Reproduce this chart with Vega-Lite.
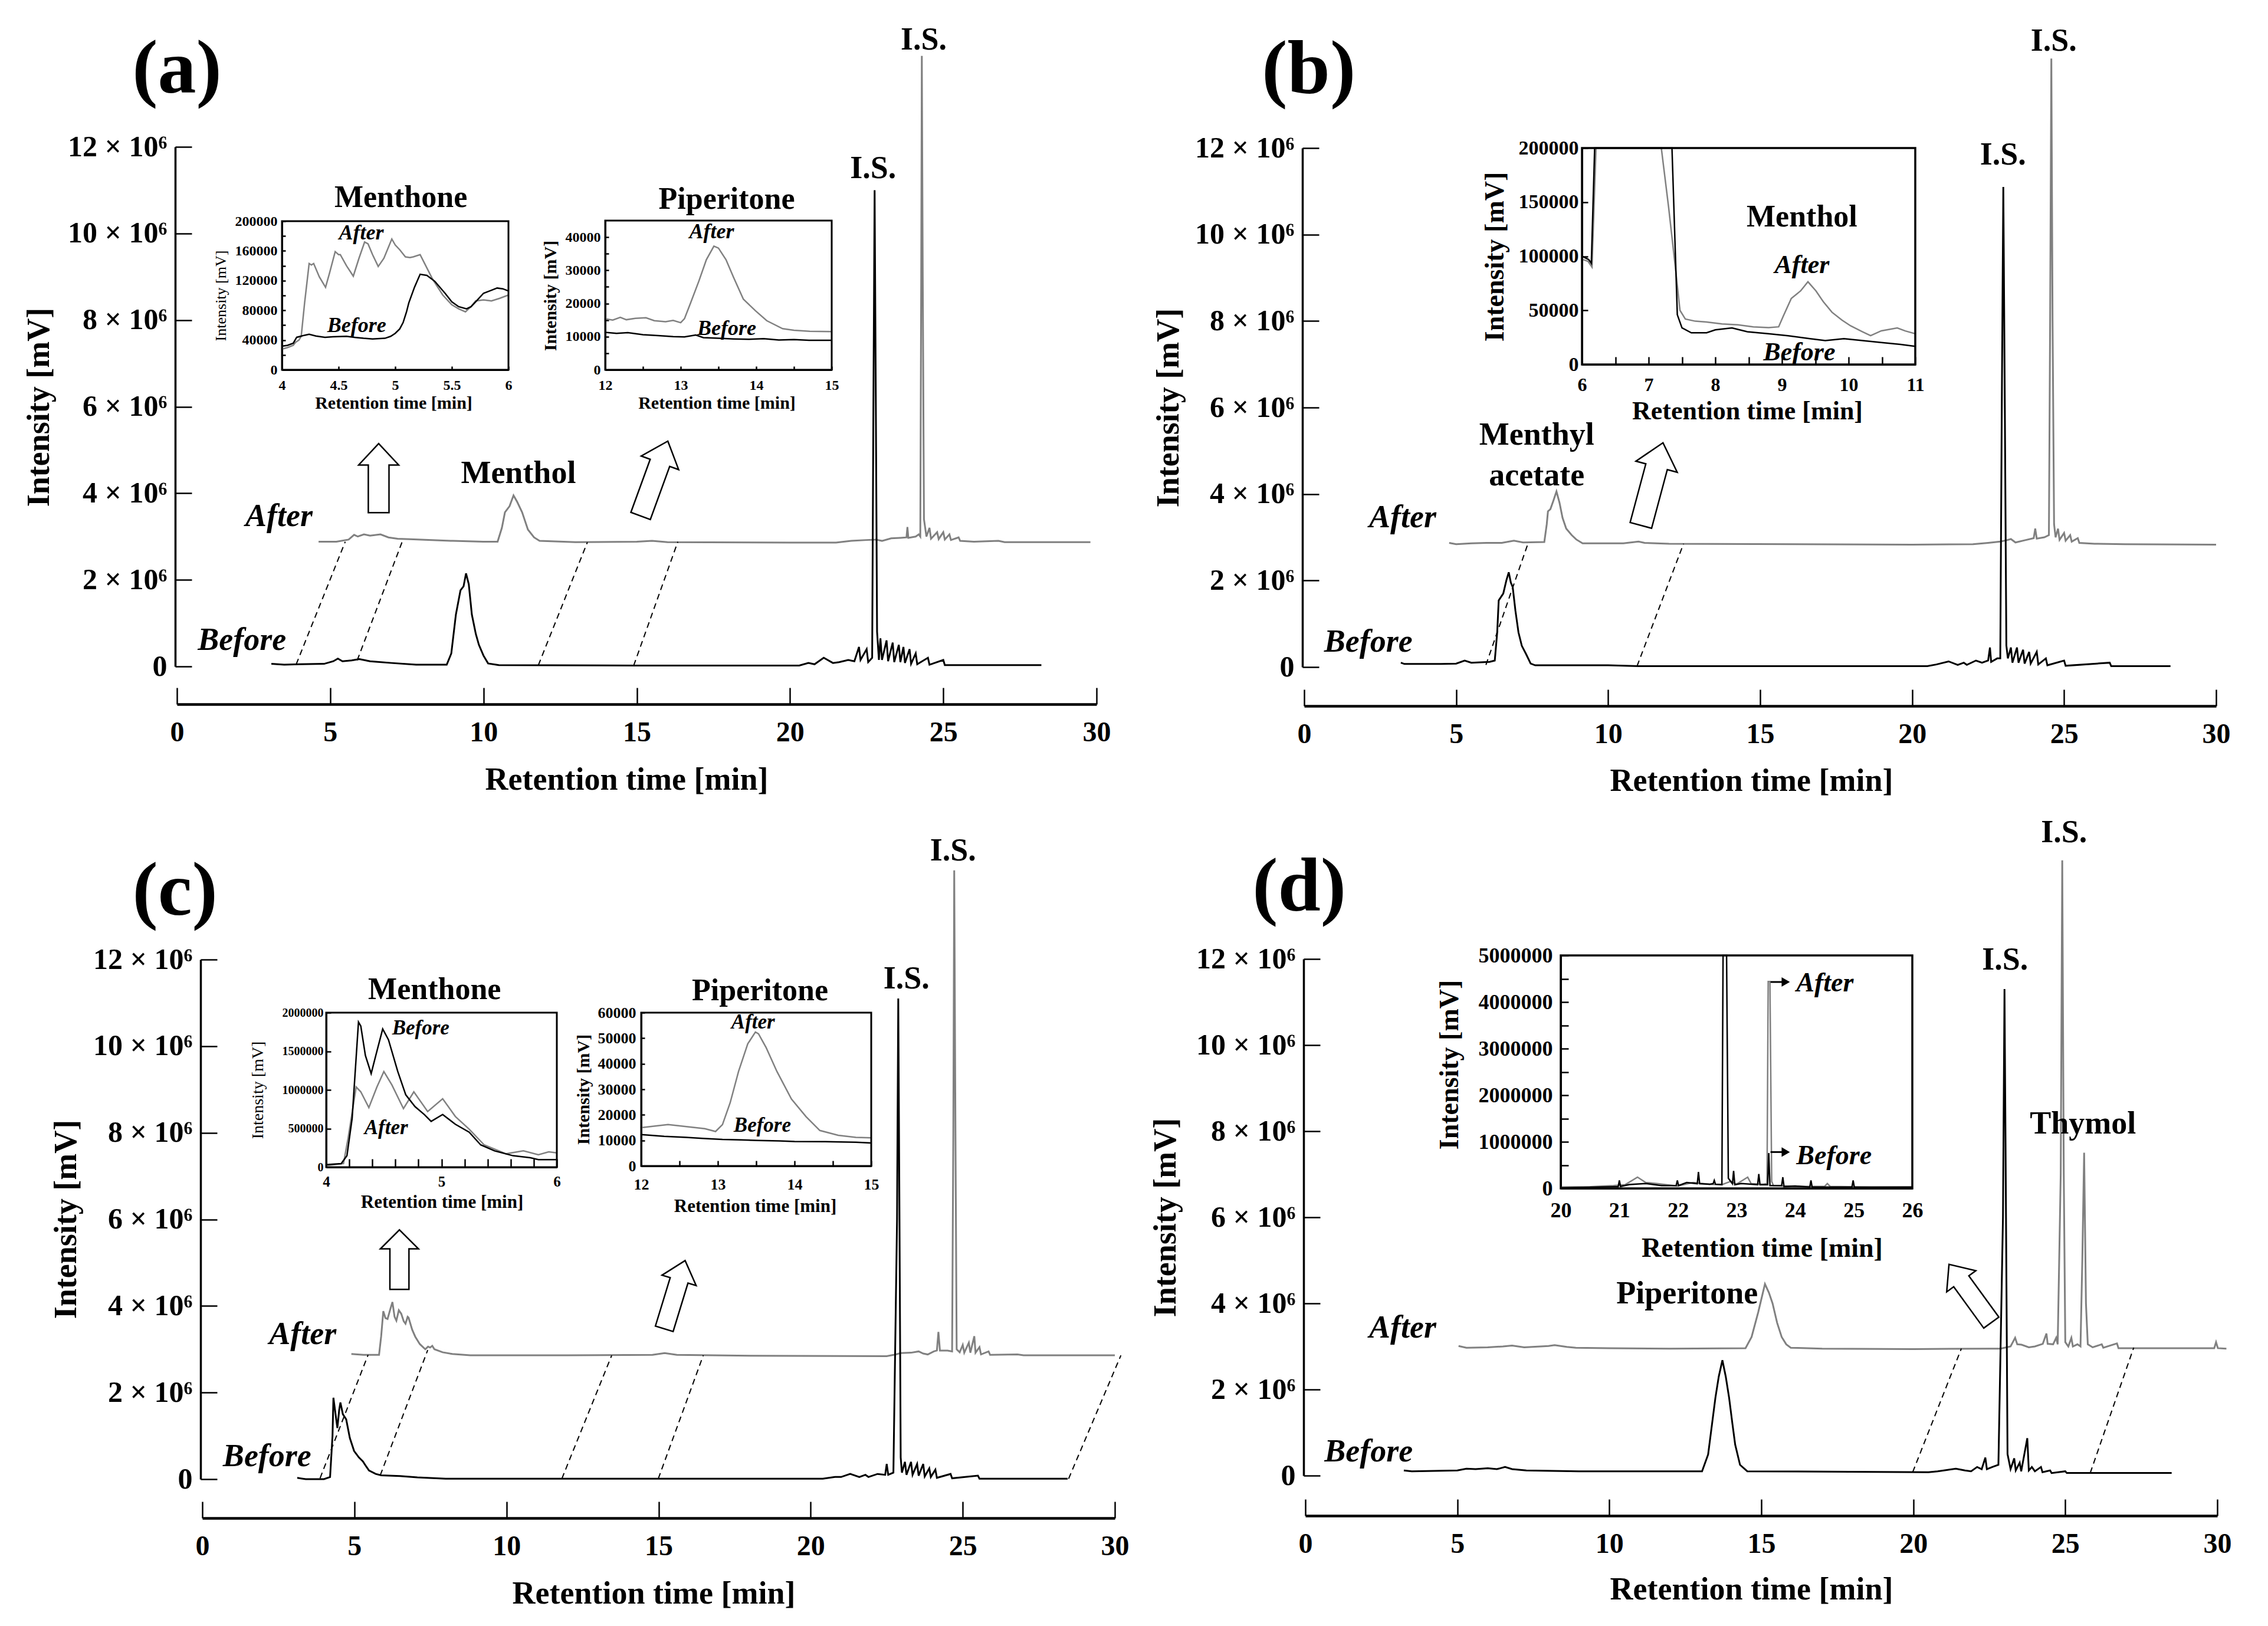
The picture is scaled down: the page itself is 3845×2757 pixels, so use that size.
{
"$schema":"https://vega.github.io/schema/vega-lite/v6.json",
"width":3845,"height":2757,"autosize":"none","padding":0,"background":"white",
"config":{"view":{"stroke":null},"font":"Liberation Serif",
"axis":{"grid":false,"domainColor":"black","tickColor":"black","labelColor":"black","titleColor":"black","labelFont":"Liberation Serif","titleFont":"Liberation Serif","labelFontWeight":"bold","titleFontWeight":"bold","labelOverlap":false,"labelFlush":false,"labelBound":false,"tickWidth":2.5,"domainWidth":3,"titleAlign":"center","titleBaseline":"middle"},
"text":{"font":"Liberation Serif","color":"black"}},
"datasets":{
"aM":[
{"s":"A","t":4.62,"v":2.88},{"s":"A","t":5.2,"v":2.88},{"s":"A","t":5.6,"v":2.93},{"s":"A","t":5.78,"v":3.04},{"s":"A","t":5.9,"v":3.0},{"s":"A","t":6.1,"v":3.05},{"s":"A","t":6.3,"v":3.02},{"s":"A","t":6.64,"v":3.05},{"s":"A","t":6.9,"v":2.98},{"s":"A","t":7.2,"v":2.95},{"s":"A","t":7.6,"v":2.94},{"s":"A","t":8.2,"v":2.92},{"s":"A","t":9.0,"v":2.9},{"s":"A","t":10.0,"v":2.88},{"s":"A","t":10.46,"v":2.88},{"s":"A","t":10.6,"v":3.2},{"s":"A","t":10.7,"v":3.56},{"s":"A","t":10.85,"v":3.7},{"s":"A","t":10.98,"v":3.95},{"s":"A","t":11.1,"v":3.8},{"s":"A","t":11.26,"v":3.56},{"s":"A","t":11.45,"v":3.16},{"s":"A","t":11.65,"v":2.98},{"s":"A","t":11.83,"v":2.9},{"s":"A","t":13.0,"v":2.87},{"s":"A","t":15.0,"v":2.88},{"s":"A","t":15.5,"v":2.9},{"s":"A","t":16.0,"v":2.87},{"s":"A","t":20.0,"v":2.86},{"s":"A","t":21.5,"v":2.86},{"s":"A","t":22.0,"v":2.9},{"s":"A","t":22.5,"v":2.92},{"s":"A","t":22.8,"v":2.93},{"s":"A","t":23.0,"v":2.9},{"s":"A","t":23.3,"v":2.96},{"s":"A","t":23.6,"v":2.97},{"s":"A","t":23.8,"v":2.98},{"s":"A","t":23.83,"v":3.22},{"s":"A","t":23.86,"v":2.97},{"s":"A","t":24.1,"v":3.0},{"s":"A","t":24.2,"v":3.05},{"s":"A","t":24.25,"v":3.0},{"s":"A","t":24.28,"v":9.0},{"s":"A","t":24.3,"v":14.1},{"s":"A","t":24.33,"v":9.0},{"s":"A","t":24.37,"v":3.4},{"s":"A","t":24.45,"v":3.0},{"s":"A","t":24.55,"v":3.2},{"s":"A","t":24.6,"v":2.95},{"s":"A","t":24.8,"v":3.1},{"s":"A","t":24.85,"v":2.94},{"s":"A","t":25.0,"v":3.1},{"s":"A","t":25.05,"v":2.93},{"s":"A","t":25.2,"v":3.05},{"s":"A","t":25.25,"v":2.92},{"s":"A","t":25.5,"v":2.98},{"s":"A","t":25.55,"v":2.9},{"s":"A","t":26.0,"v":2.88},{"s":"A","t":26.8,"v":2.9},{"s":"A","t":27.0,"v":2.87},{"s":"A","t":29.8,"v":2.87},
{"s":"B","t":3.08,"v":0.06},{"s":"B","t":3.5,"v":0.04},{"s":"B","t":4.0,"v":0.05},{"s":"B","t":4.8,"v":0.06},{"s":"B","t":5.1,"v":0.12},{"s":"B","t":5.25,"v":0.18},{"s":"B","t":5.4,"v":0.12},{"s":"B","t":5.7,"v":0.14},{"s":"B","t":5.95,"v":0.17},{"s":"B","t":6.3,"v":0.12},{"s":"B","t":7.0,"v":0.08},{"s":"B","t":7.8,"v":0.04},{"s":"B","t":8.8,"v":0.04},{"s":"B","t":8.95,"v":0.3},{"s":"B","t":9.1,"v":1.2},{"s":"B","t":9.25,"v":1.76},{"s":"B","t":9.35,"v":1.85},{"s":"B","t":9.43,"v":2.15},{"s":"B","t":9.52,"v":1.9},{"s":"B","t":9.62,"v":1.2},{"s":"B","t":9.75,"v":0.75},{"s":"B","t":9.85,"v":0.5},{"s":"B","t":10.0,"v":0.25},{"s":"B","t":10.15,"v":0.07},{"s":"B","t":10.5,"v":0.03},{"s":"B","t":15.0,"v":0.02},{"s":"B","t":20.3,"v":0.02},{"s":"B","t":20.6,"v":0.08},{"s":"B","t":20.8,"v":0.05},{"s":"B","t":21.1,"v":0.2},{"s":"B","t":21.4,"v":0.08},{"s":"B","t":21.6,"v":0.1},{"s":"B","t":21.9,"v":0.15},{"s":"B","t":22.1,"v":0.12},{"s":"B","t":22.25,"v":0.45},{"s":"B","t":22.3,"v":0.15},{"s":"B","t":22.5,"v":0.4},{"s":"B","t":22.55,"v":0.1},{"s":"B","t":22.68,"v":0.2},{"s":"B","t":22.72,"v":6.0},{"s":"B","t":22.76,"v":11.0},{"s":"B","t":22.8,"v":6.0},{"s":"B","t":22.84,"v":0.8},{"s":"B","t":22.9,"v":0.15},{"s":"B","t":22.95,"v":0.65},{"s":"B","t":23.0,"v":0.15},{"s":"B","t":23.15,"v":0.6},{"s":"B","t":23.2,"v":0.12},{"s":"B","t":23.35,"v":0.55},{"s":"B","t":23.4,"v":0.1},{"s":"B","t":23.55,"v":0.5},{"s":"B","t":23.6,"v":0.1},{"s":"B","t":23.7,"v":0.45},{"s":"B","t":23.75,"v":0.08},{"s":"B","t":23.9,"v":0.4},{"s":"B","t":23.95,"v":0.06},{"s":"B","t":24.1,"v":0.3},{"s":"B","t":24.15,"v":0.05},{"s":"B","t":24.5,"v":0.2},{"s":"B","t":24.55,"v":0.04},{"s":"B","t":25.0,"v":0.15},{"s":"B","t":25.05,"v":0.03},{"s":"B","t":26.5,"v":0.03},{"s":"B","t":28.2,"v":0.03}],
"aD":[{"g":1,"t":3.89,"v":0.05},{"g":1,"t":5.49,"v":2.88},{"g":2,"t":5.88,"v":0.14},{"g":2,"t":7.38,"v":2.94},{"g":3,"t":11.79,"v":0.03},{"g":3,"t":13.39,"v":2.87},{"g":4,"t":14.9,"v":0.02},{"g":4,"t":16.34,"v":2.88}],
"a1":[
{"s":"A","t":4.0,"v":27800},{"s":"A","t":4.05,"v":30000},{"s":"A","t":4.1,"v":33000},{"s":"A","t":4.12,"v":37000},{"s":"A","t":4.15,"v":40000},{"s":"A","t":4.17,"v":45000},{"s":"A","t":4.2,"v":90000},{"s":"A","t":4.24,"v":143000},{"s":"A","t":4.26,"v":141000},{"s":"A","t":4.28,"v":143000},{"s":"A","t":4.33,"v":125000},{"s":"A","t":4.385,"v":111000},{"s":"A","t":4.42,"v":130000},{"s":"A","t":4.47,"v":159000},{"s":"A","t":4.5,"v":155000},{"s":"A","t":4.515,"v":155000},{"s":"A","t":4.57,"v":140000},{"s":"A","t":4.63,"v":126000},{"s":"A","t":4.68,"v":150000},{"s":"A","t":4.73,"v":172000},{"s":"A","t":4.76,"v":169500},{"s":"A","t":4.8,"v":155000},{"s":"A","t":4.85,"v":139000},{"s":"A","t":4.9,"v":150000},{"s":"A","t":4.97,"v":176000},{"s":"A","t":5.0,"v":168000},{"s":"A","t":5.04,"v":161500},{"s":"A","t":5.09,"v":152000},{"s":"A","t":5.13,"v":151000},{"s":"A","t":5.16,"v":152000},{"s":"A","t":5.22,"v":155000},{"s":"A","t":5.26,"v":143000},{"s":"A","t":5.33,"v":122000},{"s":"A","t":5.42,"v":100600},{"s":"A","t":5.5,"v":87400},{"s":"A","t":5.56,"v":82000},{"s":"A","t":5.62,"v":78000},{"s":"A","t":5.67,"v":85000},{"s":"A","t":5.71,"v":92700},{"s":"A","t":5.78,"v":94000},{"s":"A","t":5.85,"v":92700},{"s":"A","t":5.92,"v":96000},{"s":"A","t":6.0,"v":100600},
{"s":"B","t":4.0,"v":31800},{"s":"B","t":4.05,"v":33000},{"s":"B","t":4.1,"v":35800},{"s":"B","t":4.13,"v":43700},{"s":"B","t":4.2,"v":46500},{"s":"B","t":4.24,"v":47700},{"s":"B","t":4.3,"v":45500},{"s":"B","t":4.38,"v":43700},{"s":"B","t":4.45,"v":44500},{"s":"B","t":4.57,"v":45000},{"s":"B","t":4.65,"v":43500},{"s":"B","t":4.72,"v":42400},{"s":"B","t":4.8,"v":41500},{"s":"B","t":4.91,"v":42400},{"s":"B","t":4.96,"v":45000},{"s":"B","t":5.0,"v":49000},{"s":"B","t":5.04,"v":55000},{"s":"B","t":5.07,"v":63600},{"s":"B","t":5.1,"v":78000},{"s":"B","t":5.12,"v":90000},{"s":"B","t":5.17,"v":111000},{"s":"B","t":5.22,"v":128500},{"s":"B","t":5.28,"v":127000},{"s":"B","t":5.35,"v":119000},{"s":"B","t":5.44,"v":103000},{"s":"B","t":5.5,"v":91400},{"s":"B","t":5.56,"v":85000},{"s":"B","t":5.63,"v":82000},{"s":"B","t":5.67,"v":85000},{"s":"B","t":5.71,"v":91400},{"s":"B","t":5.78,"v":103000},{"s":"B","t":5.85,"v":107000},{"s":"B","t":5.9,"v":110000},{"s":"B","t":5.95,"v":109000},{"s":"B","t":6.0,"v":106000}],
"a2":[
{"s":"A","t":12.0,"v":15400},{"s":"A","t":12.1,"v":15000},{"s":"A","t":12.2,"v":15800},{"s":"A","t":12.28,"v":15100},{"s":"A","t":12.4,"v":15500},{"s":"A","t":12.54,"v":15700},{"s":"A","t":12.65,"v":14800},{"s":"A","t":12.8,"v":14500},{"s":"A","t":12.9,"v":14900},{"s":"A","t":13.0,"v":14200},{"s":"A","t":13.05,"v":15400},{"s":"A","t":13.13,"v":20100},{"s":"A","t":13.24,"v":26700},{"s":"A","t":13.34,"v":33200},{"s":"A","t":13.44,"v":37300},{"s":"A","t":13.5,"v":36700},{"s":"A","t":13.6,"v":33200},{"s":"A","t":13.7,"v":27900},{"s":"A","t":13.83,"v":21300},{"s":"A","t":13.99,"v":17800},{"s":"A","t":14.14,"v":14800},{"s":"A","t":14.35,"v":12400},{"s":"A","t":14.5,"v":11900},{"s":"A","t":14.71,"v":11600},{"s":"A","t":15.0,"v":11500},
{"s":"B","t":12.0,"v":11300},{"s":"B","t":12.15,"v":11000},{"s":"B","t":12.3,"v":11200},{"s":"B","t":12.5,"v":10600},{"s":"B","t":12.7,"v":10300},{"s":"B","t":12.9,"v":10000},{"s":"B","t":13.05,"v":9900},{"s":"B","t":13.2,"v":10500},{"s":"B","t":13.3,"v":9700},{"s":"B","t":13.5,"v":9500},{"s":"B","t":13.7,"v":9300},{"s":"B","t":13.9,"v":9200},{"s":"B","t":14.1,"v":9400},{"s":"B","t":14.3,"v":9000},{"s":"B","t":14.5,"v":9100},{"s":"B","t":14.7,"v":8900},{"s":"B","t":15.0,"v":8900}],
"bM":[
{"s":"A","t":4.77,"v":2.87},{"s":"A","t":5.0,"v":2.84},{"s":"A","t":5.5,"v":2.86},{"s":"A","t":6.0,"v":2.87},{"s":"A","t":6.5,"v":2.87},{"s":"A","t":6.9,"v":2.92},{"s":"A","t":7.2,"v":2.88},{"s":"A","t":7.9,"v":2.89},{"s":"A","t":7.98,"v":3.3},{"s":"A","t":8.02,"v":3.6},{"s":"A","t":8.1,"v":3.65},{"s":"A","t":8.2,"v":3.85},{"s":"A","t":8.3,"v":4.06},{"s":"A","t":8.4,"v":3.8},{"s":"A","t":8.5,"v":3.45},{"s":"A","t":8.62,"v":3.2},{"s":"A","t":8.8,"v":3.05},{"s":"A","t":8.95,"v":2.95},{"s":"A","t":9.16,"v":2.86},{"s":"A","t":10.5,"v":2.86},{"s":"A","t":11.0,"v":2.9},{"s":"A","t":11.2,"v":2.87},{"s":"A","t":12.0,"v":2.85},{"s":"A","t":20.0,"v":2.83},{"s":"A","t":22.0,"v":2.84},{"s":"A","t":22.5,"v":2.87},{"s":"A","t":22.9,"v":2.9},{"s":"A","t":23.1,"v":2.93},{"s":"A","t":23.25,"v":2.96},{"s":"A","t":23.4,"v":2.88},{"s":"A","t":23.7,"v":2.93},{"s":"A","t":24.0,"v":2.98},{"s":"A","t":24.05,"v":3.2},{"s":"A","t":24.1,"v":2.97},{"s":"A","t":24.35,"v":3.0},{"s":"A","t":24.5,"v":3.05},{"s":"A","t":24.54,"v":8.0},{"s":"A","t":24.58,"v":14.07},{"s":"A","t":24.62,"v":8.0},{"s":"A","t":24.67,"v":3.3},{"s":"A","t":24.72,"v":3.0},{"s":"A","t":24.8,"v":3.2},{"s":"A","t":24.85,"v":2.94},{"s":"A","t":25.0,"v":3.1},{"s":"A","t":25.05,"v":2.92},{"s":"A","t":25.2,"v":3.05},{"s":"A","t":25.25,"v":2.9},{"s":"A","t":25.45,"v":2.98},{"s":"A","t":25.5,"v":2.87},{"s":"A","t":26.0,"v":2.85},{"s":"A","t":27.0,"v":2.84},{"s":"A","t":30.0,"v":2.83},
{"s":"B","t":3.18,"v":0.1},{"s":"B","t":3.3,"v":0.07},{"s":"B","t":4.5,"v":0.07},{"s":"B","t":5.0,"v":0.08},{"s":"B","t":5.28,"v":0.15},{"s":"B","t":5.5,"v":0.1},{"s":"B","t":6.1,"v":0.12},{"s":"B","t":6.27,"v":0.15},{"s":"B","t":6.35,"v":0.8},{"s":"B","t":6.4,"v":1.54},{"s":"B","t":6.55,"v":1.7},{"s":"B","t":6.65,"v":2.0},{"s":"B","t":6.73,"v":2.19},{"s":"B","t":6.8,"v":1.95},{"s":"B","t":6.86,"v":1.85},{"s":"B","t":6.95,"v":1.3},{"s":"B","t":7.05,"v":0.8},{"s":"B","t":7.16,"v":0.49},{"s":"B","t":7.3,"v":0.3},{"s":"B","t":7.45,"v":0.08},{"s":"B","t":7.6,"v":0.04},{"s":"B","t":10.0,"v":0.04},{"s":"B","t":11.0,"v":0.02},{"s":"B","t":20.5,"v":0.02},{"s":"B","t":20.8,"v":0.06},{"s":"B","t":21.2,"v":0.13},{"s":"B","t":21.5,"v":0.05},{"s":"B","t":21.7,"v":0.1},{"s":"B","t":21.8,"v":0.05},{"s":"B","t":22.1,"v":0.15},{"s":"B","t":22.3,"v":0.1},{"s":"B","t":22.5,"v":0.15},{"s":"B","t":22.56,"v":0.45},{"s":"B","t":22.6,"v":0.12},{"s":"B","t":22.8,"v":0.2},{"s":"B","t":22.9,"v":0.2},{"s":"B","t":22.95,"v":6.0},{"s":"B","t":23.0,"v":11.1},{"s":"B","t":23.05,"v":6.0},{"s":"B","t":23.1,"v":0.5},{"s":"B","t":23.15,"v":0.2},{"s":"B","t":23.25,"v":0.45},{"s":"B","t":23.3,"v":0.1},{"s":"B","t":23.45,"v":0.45},{"s":"B","t":23.5,"v":0.1},{"s":"B","t":23.65,"v":0.4},{"s":"B","t":23.7,"v":0.08},{"s":"B","t":23.85,"v":0.35},{"s":"B","t":23.9,"v":0.08},{"s":"B","t":24.1,"v":0.35},{"s":"B","t":24.15,"v":0.06},{"s":"B","t":24.4,"v":0.2},{"s":"B","t":24.45,"v":0.04},{"s":"B","t":25.0,"v":0.15},{"s":"B","t":25.05,"v":0.03},{"s":"B","t":26.5,"v":0.1},{"s":"B","t":26.55,"v":0.02},{"s":"B","t":28.5,"v":0.02}],
"bD":[{"g":1,"t":5.98,"v":0.05},{"g":1,"t":7.37,"v":2.87},{"g":2,"t":10.95,"v":0.02},{"g":2,"t":12.48,"v":2.85}],
"b1":[
{"s":"A","t":6.0,"v":97200},{"s":"A","t":6.09,"v":95400},{"s":"A","t":6.15,"v":90000},{"s":"A","t":6.21,"v":200000},{"s":"A","t":7.19,"v":200000},{"s":"A","t":7.3,"v":145000},{"s":"A","t":7.4,"v":90000},{"s":"A","t":7.47,"v":50000},{"s":"A","t":7.55,"v":42000},{"s":"A","t":7.7,"v":40000},{"s":"A","t":7.87,"v":39300},{"s":"A","t":8.1,"v":37500},{"s":"A","t":8.34,"v":36600},{"s":"A","t":8.57,"v":34800},{"s":"A","t":8.8,"v":34000},{"s":"A","t":8.95,"v":34800},{"s":"A","t":9.02,"v":44700},{"s":"A","t":9.14,"v":61000},{"s":"A","t":9.28,"v":68000},{"s":"A","t":9.39,"v":76400},{"s":"A","t":9.51,"v":68000},{"s":"A","t":9.62,"v":58000},{"s":"A","t":9.75,"v":48300},{"s":"A","t":9.9,"v":41000},{"s":"A","t":10.03,"v":35700},{"s":"A","t":10.2,"v":30500},{"s":"A","t":10.33,"v":26600},{"s":"A","t":10.49,"v":31100},{"s":"A","t":10.73,"v":33800},{"s":"A","t":10.85,"v":31000},{"s":"A","t":11.0,"v":28400},
{"s":"B","t":6.0,"v":100000},{"s":"B","t":6.1,"v":97000},{"s":"B","t":6.14,"v":93500},{"s":"B","t":6.19,"v":200000},{"s":"B","t":7.35,"v":200000},{"s":"B","t":7.43,"v":46000},{"s":"B","t":7.5,"v":33800},{"s":"B","t":7.64,"v":29300},{"s":"B","t":7.87,"v":29300},{"s":"B","t":8.0,"v":32000},{"s":"B","t":8.25,"v":33800},{"s":"B","t":8.48,"v":30200},{"s":"B","t":8.81,"v":28400},{"s":"B","t":9.09,"v":26600},{"s":"B","t":9.42,"v":23900},{"s":"B","t":9.65,"v":22100},{"s":"B","t":9.93,"v":23900},{"s":"B","t":10.21,"v":22100},{"s":"B","t":10.49,"v":20300},{"s":"B","t":10.78,"v":18500},{"s":"B","t":11.0,"v":16700}],
"cM":[
{"s":"A","t":4.9,"v":2.89},{"s":"A","t":5.3,"v":2.87},{"s":"A","t":5.81,"v":2.87},{"s":"A","t":5.88,"v":3.3},{"s":"A","t":5.95,"v":3.88},{"s":"A","t":6.02,"v":3.72},{"s":"A","t":6.09,"v":3.7},{"s":"A","t":6.17,"v":3.9},{"s":"A","t":6.25,"v":4.09},{"s":"A","t":6.32,"v":3.75},{"s":"A","t":6.38,"v":3.66},{"s":"A","t":6.46,"v":3.9},{"s":"A","t":6.54,"v":3.82},{"s":"A","t":6.62,"v":3.65},{"s":"A","t":6.68,"v":3.59},{"s":"A","t":6.75,"v":3.75},{"s":"A","t":6.78,"v":3.73},{"s":"A","t":6.9,"v":3.45},{"s":"A","t":7.0,"v":3.29},{"s":"A","t":7.15,"v":3.12},{"s":"A","t":7.33,"v":3.0},{"s":"A","t":7.42,"v":3.06},{"s":"A","t":7.49,"v":3.04},{"s":"A","t":7.56,"v":3.08},{"s":"A","t":7.63,"v":3.0},{"s":"A","t":7.9,"v":2.93},{"s":"A","t":8.22,"v":2.89},{"s":"A","t":8.81,"v":2.86},{"s":"A","t":12.0,"v":2.86},{"s":"A","t":14.8,"v":2.87},{"s":"A","t":15.2,"v":2.91},{"s":"A","t":15.6,"v":2.87},{"s":"A","t":18.0,"v":2.85},{"s":"A","t":22.5,"v":2.84},{"s":"A","t":22.8,"v":2.88},{"s":"A","t":22.95,"v":2.91},{"s":"A","t":23.3,"v":2.92},{"s":"A","t":23.55,"v":2.95},{"s":"A","t":23.7,"v":2.9},{"s":"A","t":23.85,"v":2.88},{"s":"A","t":24.05,"v":2.95},{"s":"A","t":24.15,"v":2.97},{"s":"A","t":24.2,"v":3.4},{"s":"A","t":24.25,"v":2.97},{"s":"A","t":24.5,"v":2.97},{"s":"A","t":24.65,"v":2.95},{"s":"A","t":24.69,"v":8.0},{"s":"A","t":24.72,"v":14.06},{"s":"A","t":24.76,"v":8.0},{"s":"A","t":24.8,"v":3.0},{"s":"A","t":24.9,"v":2.93},{"s":"A","t":25.0,"v":3.1},{"s":"A","t":25.05,"v":2.92},{"s":"A","t":25.2,"v":3.15},{"s":"A","t":25.25,"v":2.92},{"s":"A","t":25.38,"v":3.3},{"s":"A","t":25.42,"v":2.92},{"s":"A","t":25.55,"v":3.05},{"s":"A","t":25.6,"v":2.88},{"s":"A","t":25.85,"v":2.95},{"s":"A","t":25.9,"v":2.87},{"s":"A","t":26.8,"v":2.88},{"s":"A","t":27.0,"v":2.86},{"s":"A","t":30.0,"v":2.86},
{"s":"B","t":3.12,"v":0.03},{"s":"B","t":3.4,"v":0.0},{"s":"B","t":4.0,"v":0.0},{"s":"B","t":4.2,"v":0.05},{"s":"B","t":4.28,"v":1.0},{"s":"B","t":4.31,"v":1.88},{"s":"B","t":4.38,"v":1.5},{"s":"B","t":4.44,"v":1.18},{"s":"B","t":4.5,"v":1.6},{"s":"B","t":4.54,"v":1.77},{"s":"B","t":4.62,"v":1.5},{"s":"B","t":4.73,"v":1.38},{"s":"B","t":4.85,"v":0.95},{"s":"B","t":4.99,"v":0.65},{"s":"B","t":5.15,"v":0.5},{"s":"B","t":5.28,"v":0.41},{"s":"B","t":5.38,"v":0.3},{"s":"B","t":5.48,"v":0.2},{"s":"B","t":5.7,"v":0.12},{"s":"B","t":5.88,"v":0.09},{"s":"B","t":6.5,"v":0.07},{"s":"B","t":7.07,"v":0.04},{"s":"B","t":8.0,"v":0.01},{"s":"B","t":20.4,"v":0.01},{"s":"B","t":20.8,"v":0.05},{"s":"B","t":21.0,"v":0.05},{"s":"B","t":21.3,"v":0.12},{"s":"B","t":21.6,"v":0.05},{"s":"B","t":21.8,"v":0.1},{"s":"B","t":21.9,"v":0.05},{"s":"B","t":22.2,"v":0.12},{"s":"B","t":22.45,"v":0.1},{"s":"B","t":22.5,"v":0.35},{"s":"B","t":22.55,"v":0.1},{"s":"B","t":22.72,"v":0.15},{"s":"B","t":22.84,"v":6.0},{"s":"B","t":22.88,"v":11.1},{"s":"B","t":22.92,"v":6.0},{"s":"B","t":22.96,"v":0.5},{"s":"B","t":23.0,"v":0.15},{"s":"B","t":23.1,"v":0.4},{"s":"B","t":23.15,"v":0.1},{"s":"B","t":23.3,"v":0.4},{"s":"B","t":23.35,"v":0.1},{"s":"B","t":23.5,"v":0.35},{"s":"B","t":23.55,"v":0.08},{"s":"B","t":23.7,"v":0.35},{"s":"B","t":23.75,"v":0.06},{"s":"B","t":23.9,"v":0.25},{"s":"B","t":23.95,"v":0.05},{"s":"B","t":24.1,"v":0.22},{"s":"B","t":24.15,"v":0.03},{"s":"B","t":24.6,"v":0.12},{"s":"B","t":24.65,"v":0.02},{"s":"B","t":25.5,"v":0.08},{"s":"B","t":25.55,"v":0.01},{"s":"B","t":28.45,"v":0.01}],
"cD":[{"g":1,"t":3.87,"v":0.02},{"g":1,"t":5.45,"v":2.87},{"g":2,"t":5.85,"v":0.09},{"g":2,"t":7.41,"v":2.98},{"g":3,"t":11.82,"v":0.01},{"g":3,"t":13.46,"v":2.86},{"g":4,"t":14.99,"v":0.01},{"g":4,"t":16.47,"v":2.86},{"g":5,"t":28.48,"v":0.01},{"g":5,"t":30.2,"v":2.86}],
"c1":[
{"s":"A","t":4.0,"v":20000},{"s":"A","t":4.15,"v":46000},{"s":"A","t":4.19,"v":377000},{"s":"A","t":4.26,"v":1038000},{"s":"A","t":4.3,"v":975000},{"s":"A","t":4.37,"v":771000},{"s":"A","t":4.44,"v":1038000},{"s":"A","t":4.5,"v":1237000},{"s":"A","t":4.57,"v":1064000},{"s":"A","t":4.67,"v":758000},{"s":"A","t":4.76,"v":975000},{"s":"A","t":4.88,"v":720000},{"s":"A","t":5.01,"v":885000},{"s":"A","t":5.12,"v":656000},{"s":"A","t":5.24,"v":491000},{"s":"A","t":5.37,"v":288000},{"s":"A","t":5.56,"v":173000},{"s":"A","t":5.71,"v":211000},{"s":"A","t":5.84,"v":160000},{"s":"A","t":5.93,"v":198000},{"s":"A","t":6.0,"v":186000},
{"s":"B","t":4.0,"v":33000},{"s":"B","t":4.13,"v":46000},{"s":"B","t":4.18,"v":148000},{"s":"B","t":4.225,"v":631000},{"s":"B","t":4.28,"v":1878000},{"s":"B","t":4.3,"v":1827000},{"s":"B","t":4.34,"v":1445000},{"s":"B","t":4.39,"v":1211000},{"s":"B","t":4.43,"v":1445000},{"s":"B","t":4.49,"v":1789000},{"s":"B","t":4.54,"v":1649000},{"s":"B","t":4.62,"v":1242000},{"s":"B","t":4.69,"v":936000},{"s":"B","t":4.77,"v":784000},{"s":"B","t":4.85,"v":682000},{"s":"B","t":4.91,"v":593000},{"s":"B","t":5.01,"v":682000},{"s":"B","t":5.12,"v":555000},{"s":"B","t":5.24,"v":453000},{"s":"B","t":5.34,"v":288000},{"s":"B","t":5.46,"v":211000},{"s":"B","t":5.62,"v":148000},{"s":"B","t":5.77,"v":122000},{"s":"B","t":5.84,"v":97000},{"s":"B","t":6.0,"v":97000}],
"c2":[
{"s":"A","t":12.0,"v":15000},{"s":"A","t":12.35,"v":16200},{"s":"A","t":12.59,"v":15400},{"s":"A","t":12.83,"v":14600},{"s":"A","t":12.97,"v":13500},{"s":"A","t":13.06,"v":16200},{"s":"A","t":13.16,"v":24700},{"s":"A","t":13.27,"v":37000},{"s":"A","t":13.39,"v":47800},{"s":"A","t":13.49,"v":52400},{"s":"A","t":13.53,"v":51700},{"s":"A","t":13.63,"v":46300},{"s":"A","t":13.77,"v":37000},{"s":"A","t":13.96,"v":26200},{"s":"A","t":14.15,"v":19300},{"s":"A","t":14.33,"v":13900},{"s":"A","t":14.57,"v":12000},{"s":"A","t":14.8,"v":11200},{"s":"A","t":15.0,"v":11000},
{"s":"B","t":12.0,"v":12300},{"s":"B","t":12.3,"v":11600},{"s":"B","t":12.59,"v":11200},{"s":"B","t":12.8,"v":10800},{"s":"B","t":13.06,"v":10400},{"s":"B","t":13.3,"v":10200},{"s":"B","t":13.53,"v":10000},{"s":"B","t":13.8,"v":9800},{"s":"B","t":14.0,"v":9600},{"s":"B","t":14.4,"v":9500},{"s":"B","t":14.8,"v":9300},{"s":"B","t":15.0,"v":9000}],
"dM":[
{"s":"A","t":5.04,"v":3.01},{"s":"A","t":5.3,"v":2.97},{"s":"A","t":6.0,"v":2.98},{"s":"A","t":6.5,"v":3.0},{"s":"A","t":6.8,"v":3.02},{"s":"A","t":7.2,"v":2.98},{"s":"A","t":8.0,"v":3.01},{"s":"A","t":8.2,"v":3.03},{"s":"A","t":8.6,"v":2.99},{"s":"A","t":8.9,"v":2.97},{"s":"A","t":10.0,"v":2.96},{"s":"A","t":12.0,"v":2.95},{"s":"A","t":14.48,"v":2.96},{"s":"A","t":14.68,"v":3.22},{"s":"A","t":14.9,"v":3.8},{"s":"A","t":15.12,"v":4.45},{"s":"A","t":15.25,"v":4.25},{"s":"A","t":15.37,"v":4.0},{"s":"A","t":15.52,"v":3.55},{"s":"A","t":15.67,"v":3.22},{"s":"A","t":15.82,"v":3.05},{"s":"A","t":15.97,"v":2.97},{"s":"A","t":17.0,"v":2.95},{"s":"A","t":20.0,"v":2.94},{"s":"A","t":22.5,"v":2.95},{"s":"A","t":22.87,"v":2.95},{"s":"A","t":23.2,"v":3.0},{"s":"A","t":23.35,"v":3.2},{"s":"A","t":23.42,"v":3.05},{"s":"A","t":23.56,"v":3.04},{"s":"A","t":23.8,"v":2.98},{"s":"A","t":24.0,"v":3.0},{"s":"A","t":24.26,"v":3.06},{"s":"A","t":24.38,"v":3.3},{"s":"A","t":24.42,"v":3.06},{"s":"A","t":24.6,"v":3.05},{"s":"A","t":24.7,"v":3.2},{"s":"A","t":24.75,"v":3.05},{"s":"A","t":24.85,"v":7.0},{"s":"A","t":24.9,"v":14.29},{"s":"A","t":24.95,"v":7.0},{"s":"A","t":25.0,"v":3.1},{"s":"A","t":25.1,"v":3.0},{"s":"A","t":25.2,"v":3.2},{"s":"A","t":25.25,"v":3.0},{"s":"A","t":25.4,"v":3.05},{"s":"A","t":25.5,"v":3.0},{"s":"A","t":25.56,"v":5.0},{"s":"A","t":25.62,"v":7.5},{"s":"A","t":25.68,"v":4.0},{"s":"A","t":25.74,"v":3.05},{"s":"A","t":25.9,"v":2.98},{"s":"A","t":26.2,"v":3.05},{"s":"A","t":26.25,"v":2.97},{"s":"A","t":26.7,"v":3.07},{"s":"A","t":26.75,"v":2.96},{"s":"A","t":28.0,"v":2.96},{"s":"A","t":29.9,"v":2.96},{"s":"A","t":29.96,"v":3.1},{"s":"A","t":30.02,"v":2.96},{"s":"A","t":30.3,"v":2.95},
{"s":"B","t":3.24,"v":0.12},{"s":"B","t":3.5,"v":0.1},{"s":"B","t":5.0,"v":0.12},{"s":"B","t":5.3,"v":0.16},{"s":"B","t":5.6,"v":0.15},{"s":"B","t":6.0,"v":0.17},{"s":"B","t":6.3,"v":0.15},{"s":"B","t":6.57,"v":0.2},{"s":"B","t":6.8,"v":0.15},{"s":"B","t":7.27,"v":0.12},{"s":"B","t":9.0,"v":0.1},{"s":"B","t":12.25,"v":0.1},{"s":"B","t":13.05,"v":0.1},{"s":"B","t":13.25,"v":0.49},{"s":"B","t":13.49,"v":1.81},{"s":"B","t":13.6,"v":2.3},{"s":"B","t":13.72,"v":2.68},{"s":"B","t":13.83,"v":2.3},{"s":"B","t":13.94,"v":1.81},{"s":"B","t":14.05,"v":1.2},{"s":"B","t":14.14,"v":0.72},{"s":"B","t":14.3,"v":0.25},{"s":"B","t":14.54,"v":0.1},{"s":"B","t":20.5,"v":0.08},{"s":"B","t":20.8,"v":0.1},{"s":"B","t":21.4,"v":0.16},{"s":"B","t":21.7,"v":0.12},{"s":"B","t":21.9,"v":0.1},{"s":"B","t":22.1,"v":0.2},{"s":"B","t":22.25,"v":0.15},{"s":"B","t":22.37,"v":0.42},{"s":"B","t":22.42,"v":0.15},{"s":"B","t":22.6,"v":0.2},{"s":"B","t":22.8,"v":0.25},{"s":"B","t":22.95,"v":6.0},{"s":"B","t":23.0,"v":11.3},{"s":"B","t":23.05,"v":6.0},{"s":"B","t":23.1,"v":0.5},{"s":"B","t":23.2,"v":0.15},{"s":"B","t":23.32,"v":0.4},{"s":"B","t":23.37,"v":0.12},{"s":"B","t":23.5,"v":0.3},{"s":"B","t":23.55,"v":0.1},{"s":"B","t":23.75,"v":0.87},{"s":"B","t":23.8,"v":0.12},{"s":"B","t":23.9,"v":0.2},{"s":"B","t":24.0,"v":0.1},{"s":"B","t":24.2,"v":0.2},{"s":"B","t":24.25,"v":0.08},{"s":"B","t":24.5,"v":0.12},{"s":"B","t":24.55,"v":0.06},{"s":"B","t":25.0,"v":0.1},{"s":"B","t":25.05,"v":0.06},{"s":"B","t":28.5,"v":0.06}],
"dD":[{"g":1,"t":19.98,"v":0.08},{"g":1,"t":21.58,"v":2.95},{"g":2,"t":25.82,"v":0.06},{"g":2,"t":27.25,"v":2.97}],
"d1":[
{"s":"A","t":20.0,"v":27000},{"s":"A","t":20.5,"v":35000},{"s":"A","t":20.9,"v":59000},{"s":"A","t":21.1,"v":80000},{"s":"A","t":21.31,"v":240000},{"s":"A","t":21.45,"v":127000},{"s":"A","t":21.66,"v":100000},{"s":"A","t":21.99,"v":50000},{"s":"A","t":22.26,"v":127000},{"s":"A","t":22.54,"v":90000},{"s":"A","t":22.75,"v":80000},{"s":"A","t":22.9,"v":150000},{"s":"A","t":23.0,"v":90000},{"s":"A","t":23.19,"v":240000},{"s":"A","t":23.25,"v":100000},{"s":"A","t":23.45,"v":90000},{"s":"A","t":23.52,"v":100000},{"s":"A","t":23.54,"v":4440000},{"s":"A","t":23.57,"v":4440000},{"s":"A","t":23.6,"v":150000},{"s":"A","t":23.63,"v":60000},{"s":"A","t":24.0,"v":40000},{"s":"A","t":24.5,"v":40000},{"s":"A","t":24.55,"v":104000},{"s":"A","t":24.6,"v":40000},{"s":"A","t":25.3,"v":30000},{"s":"A","t":26.0,"v":27000},
{"s":"B","t":20.0,"v":13000},{"s":"B","t":20.5,"v":25000},{"s":"B","t":20.9,"v":36000},{"s":"B","t":20.98,"v":36000},{"s":"B","t":21.0,"v":170000},{"s":"B","t":21.02,"v":40000},{"s":"B","t":21.17,"v":81000},{"s":"B","t":21.45,"v":104000},{"s":"B","t":21.72,"v":59000},{"s":"B","t":21.97,"v":60000},{"s":"B","t":21.99,"v":170000},{"s":"B","t":22.01,"v":60000},{"s":"B","t":22.15,"v":127000},{"s":"B","t":22.33,"v":100000},{"s":"B","t":22.35,"v":353000},{"s":"B","t":22.37,"v":100000},{"s":"B","t":22.54,"v":90000},{"s":"B","t":22.6,"v":100000},{"s":"B","t":22.62,"v":172000},{"s":"B","t":22.64,"v":90000},{"s":"B","t":22.75,"v":81000},{"s":"B","t":22.77,"v":5000000},{"s":"B","t":22.83,"v":5000000},{"s":"B","t":22.86,"v":217000},{"s":"B","t":22.93,"v":100000},{"s":"B","t":22.95,"v":375000},{"s":"B","t":22.97,"v":80000},{"s":"B","t":23.08,"v":104000},{"s":"B","t":23.36,"v":80000},{"s":"B","t":23.38,"v":307000},{"s":"B","t":23.4,"v":80000},{"s":"B","t":23.53,"v":80000},{"s":"B","t":23.55,"v":760000},{"s":"B","t":23.57,"v":60000},{"s":"B","t":23.77,"v":60000},{"s":"B","t":23.79,"v":240000},{"s":"B","t":23.81,"v":40000},{"s":"B","t":24.0,"v":50000},{"s":"B","t":24.25,"v":30000},{"s":"B","t":24.27,"v":172000},{"s":"B","t":24.29,"v":30000},{"s":"B","t":24.97,"v":30000},{"s":"B","t":24.99,"v":172000},{"s":"B","t":25.01,"v":25000},{"s":"B","t":26.0,"v":27000}],
"d1arr":[{"g":1,"t":23.58,"v":4430000},{"g":1,"t":23.8,"v":4430000},{"g":2,"t":23.58,"v":780000},{"g":2,"t":23.8,"v":780000}]
},
"layer":[
{"data":{"name":"aM"},
 "encoding":{
  "x":{"field":"t","type":"quantitative","scale":{"domain":[0,30],"range":[300,1859],"nice":false,"zero":false},"axis":{"orient":"bottom","offset":-1563,"values":[0,5,10,15,20,25,30],"format":"d","tickSize":-28,"domainWidth":4.5,"labelFontSize":48,"labelPadding":52,"title":"Retention time [min]","titleFontSize":54,"titleX":1062,"titleY":128}},
  "y":{"field":"v","type":"quantitative","scale":{"domain":[0,12],"range":[1130,249],"nice":false,"zero":false},"axis":{"orient":"left","offset":-297,"values":[0,2,4,6,8,10,12],"labelExpr":"datum.value === 0 ? '0\u2005' : datum.value + ' × 10⁶'","tickSize":-28,"domainWidth":3.5,"labelFontSize":50,"labelPadding":42,"title":"Intensity [mV]","titleFontSize":54,"titleX":-231,"titleY":690,"titleAngle":270}}},
 "layer":[
  {"transform":[{"filter":"datum.s==='A'"}],"mark":{"type":"line","color":"#808080","strokeWidth":3}},
  {"transform":[{"filter":"datum.s==='B'"}],"mark":{"type":"line","color":"#000000","strokeWidth":3}},
  {"data":{"name":"aD"},"mark":{"type":"line","color":"#000000","strokeWidth":2,"strokeDash":[10,7]},"encoding":{"detail":{"field":"g"}}},
  {"data":{"values":[{"t":6.58,"v":4.35}]},"mark":{"type":"point","shape":"M-0.3,1L-0.3,-0.38L-0.58,-0.38L0,-1L0.58,-0.38L0.3,-0.38L0.3,1Z","size":13689,"angle":0,"filled":true,"fill":"white","stroke":"black","strokeWidth":2.5,"opacity":1}},
  {"data":{"values":[{"t":15.57,"v":4.34}]},"mark":{"type":"point","shape":"M-0.26,1L-0.26,-0.42L-0.5,-0.42L0,-1L0.5,-0.42L0.26,-0.42L0.26,1Z","size":18225,"angle":20,"filled":true,"fill":"white","stroke":"black","strokeWidth":2.5,"opacity":1}},
  {"data":{"values":[{"t":3.33,"v":3.46,"label":"After"},{"t":2.12,"v":0.6,"label":"Before"}]},"mark":{"type":"text","fontSize":54,"fontStyle":"italic","fontWeight":"bold"},"encoding":{"text":{"field":"label"}}},
  {"data":{"values":[{"t":11.14,"v":4.45,"label":"Menthol"},{"t":22.71,"v":11.5,"label":"I.S."},{"t":24.36,"v":14.47,"label":"I.S."}]},"mark":{"type":"text","fontSize":54,"fontWeight":"bold"},"encoding":{"text":{"field":"label"}}},
  {"data":{"values":[{"t":0,"v":13.79,"label":"(a)"}]},"mark":{"type":"text","fontSize":130,"fontWeight":"bold"},"encoding":{"text":{"field":"label"}}}
 ]},
{"data":{"name":"a1"},
 "encoding":{
  "x":{"field":"t","type":"quantitative","scale":{"domain":[4,6],"range":[478,862],"nice":false,"zero":false},"axis":{"orient":"bottom","offset":-2130,"values":[4,4.5,5,5.5,6],"format":"~g","tickSize":-6,"labelFontSize":24,"labelPadding":20,"title":"Retention time [min]","titleFontSize":30,"titleX":667,"titleY":56}},
  "y":{"field":"v","type":"quantitative","scale":{"domain":[0,200000],"range":[627,375],"nice":false,"zero":false},"axis":{"orient":"left","offset":-478,"values":[0,20000,40000,60000,80000,100000,120000,140000,160000,180000,200000],"labelExpr":"datum.value % 40000 === 0 ? format(datum.value, 'd') : ''","tickSize":-6,"labelFontSize":24,"labelPadding":14,"title":"Intensity [mV]","titleFontSize":26,"titleFontWeight":"normal","titleX":-104,"titleY":501,"titleAngle":270}}},
 "layer":[
  {"transform":[{"filter":"datum.s==='A'"}],"mark":{"type":"line","color":"#808080","strokeWidth":2.5}},
  {"transform":[{"filter":"datum.s==='B'"}],"mark":{"type":"line","color":"#000000","strokeWidth":2.5}},
  {"data":{"values":[{"t":4,"t2":6,"v":0,"v2":200000}]},"mark":{"type":"rect","fillOpacity":0,"stroke":"black","strokeWidth":3},"encoding":{"x2":{"field":"t2"},"y2":{"field":"v2"}}},
  {"data":{"values":[{"t":5.05,"v":231700,"label":"Menthone"}]},"mark":{"type":"text","fontSize":52,"fontWeight":"bold"},"encoding":{"text":{"field":"label"}}},
  {"data":{"values":[{"t":4.7,"v":184000,"label":"After"},{"t":4.66,"v":59500,"label":"Before"}]},"mark":{"type":"text","fontSize":36,"fontStyle":"italic","fontWeight":"bold"},"encoding":{"text":{"field":"label"}}}
 ]},
{"data":{"name":"a2"},
 "encoding":{
  "x":{"field":"t","type":"quantitative","scale":{"domain":[12,15],"range":[1026,1410],"nice":false,"zero":false},"axis":{"orient":"bottom","offset":-2130,"values":[12,12.5,13,13.5,14,14.5,15],"labelExpr":"datum.value % 1 === 0 ? format(datum.value, 'd') : ''","tickSize":-6,"labelFontSize":24,"labelPadding":20,"title":"Retention time [min]","titleFontSize":30,"titleX":1215,"titleY":56}},
  "y":{"field":"v","type":"quantitative","scale":{"domain":[0,45000],"range":[627,374],"nice":false,"zero":false},"axis":{"orient":"left","offset":-1026,"values":[0,5000,10000,15000,20000,25000,30000,35000,40000],"labelExpr":"datum.value % 10000 === 0 ? format(datum.value, 'd') : ''","tickSize":-6,"labelFontSize":24,"labelPadding":14,"title":"Intensity [mV]","titleFontSize":30,"titleX":-93,"titleY":501,"titleAngle":270}}},
 "layer":[
  {"transform":[{"filter":"datum.s==='A'"}],"mark":{"type":"line","color":"#808080","strokeWidth":2.5}},
  {"transform":[{"filter":"datum.s==='B'"}],"mark":{"type":"line","color":"#000000","strokeWidth":2.5}},
  {"data":{"values":[{"t":12,"t2":15,"v":0,"v2":45000}]},"mark":{"type":"rect","fillOpacity":0,"stroke":"black","strokeWidth":3},"encoding":{"x2":{"field":"t2"},"y2":{"field":"v2"}}},
  {"data":{"values":[{"t":13.61,"v":51400,"label":"Piperitone"}]},"mark":{"type":"text","fontSize":52,"fontWeight":"bold"},"encoding":{"text":{"field":"label"}}},
  {"data":{"values":[{"t":13.41,"v":41600,"label":"After"},{"t":13.61,"v":12450,"label":"Before"}]},"mark":{"type":"text","fontSize":36,"fontStyle":"italic","fontWeight":"bold"},"encoding":{"text":{"field":"label"}}}
 ]},
{"data":{"name":"bM"},
 "encoding":{
  "x":{"field":"t","type":"quantitative","scale":{"domain":[0,30],"range":[2211,3757],"nice":false,"zero":false},"axis":{"orient":"bottom","offset":-1560,"values":[0,5,10,15,20,25,30],"format":"d","tickSize":-28,"domainWidth":4.5,"labelFontSize":48,"labelPadding":52,"title":"Retention time [min]","titleFontSize":54,"titleX":2969,"titleY":127}},
  "y":{"field":"v","type":"quantitative","scale":{"domain":[0,12],"range":[1131,251],"nice":false,"zero":false},"axis":{"orient":"left","offset":-2208,"values":[0,2,4,6,8,10,12],"labelExpr":"datum.value === 0 ? '0\u2005' : datum.value + ' × 10⁶'","tickSize":-28,"domainWidth":3.5,"labelFontSize":50,"labelPadding":42,"title":"Intensity [mV]","titleFontSize":54,"titleX":-227,"titleY":691,"titleAngle":270}}},
 "layer":[
  {"transform":[{"filter":"datum.s==='A'"}],"mark":{"type":"line","color":"#808080","strokeWidth":3}},
  {"transform":[{"filter":"datum.s==='B'"}],"mark":{"type":"line","color":"#000000","strokeWidth":3}},
  {"data":{"name":"bD"},"mark":{"type":"line","color":"#000000","strokeWidth":2,"strokeDash":[10,7]},"encoding":{"detail":{"field":"g"}}},
  {"data":{"values":[{"t":11.44,"v":4.23}]},"mark":{"type":"point","shape":"M-0.26,1L-0.26,-0.42L-0.5,-0.42L0,-1L0.5,-0.42L0.26,-0.42L0.26,1Z","size":21025,"angle":15,"filled":true,"fill":"white","stroke":"black","strokeWidth":2.5,"opacity":1}},
  {"data":{"values":[{"t":3.24,"v":3.45,"label":"After"},{"t":2.11,"v":0.57,"label":"Before"}]},"mark":{"type":"text","fontSize":54,"fontStyle":"italic","fontWeight":"bold"},"encoding":{"text":{"field":"label"}}},
  {"data":{"values":[{"t":7.65,"v":5.36,"label":"Menthyl"},{"t":7.65,"v":4.42,"label":"acetate"},{"t":22.99,"v":11.84,"label":"I.S."},{"t":24.66,"v":14.47,"label":"I.S."}]},"mark":{"type":"text","fontSize":54,"fontWeight":"bold"},"encoding":{"text":{"field":"label"}}},
  {"data":{"values":[{"t":0.15,"v":13.8,"label":"(b)"}]},"mark":{"type":"text","fontSize":130,"fontWeight":"bold"},"encoding":{"text":{"field":"label"}}}
 ]},
{"data":{"name":"b1"},
 "encoding":{
  "x":{"field":"t","type":"quantitative","scale":{"domain":[6,11],"range":[2682,3247],"nice":false,"zero":false},"axis":{"orient":"bottom","offset":-2139,"values":[6,6.5,7,7.5,8,8.5,9,9.5,10,10.5,11],"labelExpr":"datum.value % 1 === 0 ? format(datum.value, 'd') : ''","tickSize":-13,"labelFontSize":32,"labelPadding":32,"title":"Retention time [min]","titleFontSize":44,"titleX":2962,"titleY":79}},
  "y":{"field":"v","type":"quantitative","scale":{"domain":[0,200000],"range":[618,251],"nice":false,"zero":false},"axis":{"orient":"left","offset":-2682,"values":[0,50000,100000,150000,200000],"format":"d","tickSize":-10,"labelFontSize":34,"labelPadding":16,"title":"Intensity [mV]","titleFontSize":46,"titleX":-148,"titleY":435,"titleAngle":270}}},
 "layer":[
  {"transform":[{"filter":"datum.s==='A'"}],"mark":{"type":"line","color":"#808080","strokeWidth":2.5}},
  {"transform":[{"filter":"datum.s==='B'"}],"mark":{"type":"line","color":"#000000","strokeWidth":2.5}},
  {"data":{"values":[{"t":6,"t2":11,"v":0,"v2":200000}]},"mark":{"type":"rect","fillOpacity":0,"stroke":"black","strokeWidth":3.5},"encoding":{"x2":{"field":"t2"},"y2":{"field":"v2"}}},
  {"data":{"values":[{"t":9.3,"v":136200,"label":"Menthol"}]},"mark":{"type":"text","fontSize":52,"fontWeight":"bold"},"encoding":{"text":{"field":"label"}}},
  {"data":{"values":[{"t":9.3,"v":91600,"label":"After"},{"t":9.26,"v":10900,"label":"Before"}]},"mark":{"type":"text","fontSize":44,"fontStyle":"italic","fontWeight":"bold"},"encoding":{"text":{"field":"label"}}}
 ]},
{"data":{"name":"cM"},
 "encoding":{
  "x":{"field":"t","type":"quantitative","scale":{"domain":[0,30],"range":[343,1890],"nice":false,"zero":false},"axis":{"orient":"bottom","offset":-183,"values":[0,5,10,15,20,25,30],"format":"d","tickSize":-28,"domainWidth":4.5,"labelFontSize":48,"labelPadding":52,"title":"Retention time [min]","titleFontSize":54,"titleX":1108,"titleY":128}},
  "y":{"field":"v","type":"quantitative","scale":{"domain":[0,12],"range":[2508,1627],"nice":false,"zero":false},"axis":{"orient":"left","offset":-340,"values":[0,2,4,6,8,10,12],"labelExpr":"datum.value === 0 ? '0\u2005' : datum.value + ' × 10⁶'","tickSize":-28,"domainWidth":3.5,"labelFontSize":50,"labelPadding":42,"title":"Intensity [mV]","titleFontSize":54,"titleX":-228,"titleY":2067,"titleAngle":270}}},
 "layer":[
  {"transform":[{"filter":"datum.s==='A'"}],"mark":{"type":"line","color":"#808080","strokeWidth":3}},
  {"transform":[{"filter":"datum.s==='B'"}],"mark":{"type":"line","color":"#000000","strokeWidth":3}},
  {"data":{"name":"cD"},"mark":{"type":"line","color":"#000000","strokeWidth":2,"strokeDash":[10,7]},"encoding":{"detail":{"field":"g"}}},
  {"data":{"values":[{"t":6.48,"v":5.07}]},"mark":{"type":"point","shape":"M-0.32,1L-0.32,-0.36L-0.64,-0.36L0,-1L0.64,-0.36L0.32,-0.36L0.32,1Z","size":10201,"angle":0,"filled":true,"fill":"white","stroke":"black","strokeWidth":2.5,"opacity":1}},
  {"data":{"values":[{"t":15.53,"v":4.26}]},"mark":{"type":"point","shape":"M-0.26,1L-0.26,-0.42L-0.5,-0.42L0,-1L0.5,-0.42L0.26,-0.42L0.26,1Z","size":14641,"angle":17,"filled":true,"fill":"white","stroke":"black","strokeWidth":2.5,"opacity":1}},
  {"data":{"values":[{"t":3.3,"v":3.34,"label":"After"},{"t":2.13,"v":0.52,"label":"Before"}]},"mark":{"type":"text","fontSize":54,"fontStyle":"italic","fontWeight":"bold"},"encoding":{"text":{"field":"label"}}},
  {"data":{"values":[{"t":23.15,"v":11.55,"label":"I.S."},{"t":24.68,"v":14.5,"label":"I.S."}]},"mark":{"type":"text","fontSize":54,"fontWeight":"bold"},"encoding":{"text":{"field":"label"}}},
  {"data":{"values":[{"t":-0.9,"v":13.57,"label":"(c)"}]},"mark":{"type":"text","fontSize":130,"fontWeight":"bold"},"encoding":{"text":{"field":"label"}}}
 ]},
{"data":{"name":"c1"},
 "encoding":{
  "x":{"field":"t","type":"quantitative","scale":{"domain":[4,6],"range":[553,944],"nice":false,"zero":false},"axis":{"orient":"bottom","offset":-778,"values":[4,4.2,4.4,4.6,4.8,5,5.2,5.4,5.6,5.8,6],"labelExpr":"datum.value % 1 === 0 ? format(datum.value, 'd') : ''","tickSize":-14,"labelFontSize":25,"labelPadding":26,"title":"Retention time [min]","titleFontSize":31,"titleX":749,"titleY":59}},
  "y":{"field":"v","type":"quantitative","scale":{"domain":[0,2000000],"range":[1979,1717],"nice":false,"zero":false},"axis":{"orient":"left","offset":-553,"values":[0,500000,1000000,1500000,2000000],"format":"d","tickSize":-8,"labelFontSize":20,"labelPadding":13,"title":"Intensity [mV]","titleFontSize":28,"titleFontWeight":"normal","titleX":-116,"titleY":1848,"titleAngle":270}}},
 "layer":[
  {"transform":[{"filter":"datum.s==='A'"}],"mark":{"type":"line","color":"#808080","strokeWidth":2.5}},
  {"transform":[{"filter":"datum.s==='B'"}],"mark":{"type":"line","color":"#000000","strokeWidth":2.5}},
  {"data":{"values":[{"t":4,"t2":6,"v":0,"v2":2000000}]},"mark":{"type":"rect","fillOpacity":0,"stroke":"black","strokeWidth":3},"encoding":{"x2":{"field":"t2"},"y2":{"field":"v2"}}},
  {"data":{"values":[{"t":4.94,"v":2300000,"label":"Menthone"}]},"mark":{"type":"text","fontSize":52,"fontWeight":"bold"},"encoding":{"text":{"field":"label"}}},
  {"data":{"values":[{"t":4.82,"v":1800000,"label":"Before"},{"t":4.52,"v":510000,"label":"After"}]},"mark":{"type":"text","fontSize":35,"fontStyle":"italic","fontWeight":"bold"},"encoding":{"text":{"field":"label"}}}
 ]},
{"data":{"name":"c2"},
 "encoding":{
  "x":{"field":"t","type":"quantitative","scale":{"domain":[12,15],"range":[1087,1477],"nice":false,"zero":false},"axis":{"orient":"bottom","offset":-780,"values":[12,12.5,13,13.5,14,14.5,15],"labelExpr":"datum.value % 1 === 0 ? format(datum.value, 'd') : ''","tickSize":-9,"labelFontSize":26,"labelPadding":27,"title":"Retention time [min]","titleFontSize":31,"titleX":1280,"titleY":68}},
  "y":{"field":"v","type":"quantitative","scale":{"domain":[0,60000],"range":[1977,1717],"nice":false,"zero":false},"axis":{"orient":"left","offset":-1087,"values":[0,10000,20000,30000,40000,50000,60000],"format":"d","tickSize":-6,"labelFontSize":26,"labelPadding":15,"title":"Intensity [mV]","titleFontSize":30,"titleX":-98,"titleY":1847,"titleAngle":270}}},
 "layer":[
  {"transform":[{"filter":"datum.s==='A'"}],"mark":{"type":"line","color":"#808080","strokeWidth":2.5}},
  {"transform":[{"filter":"datum.s==='B'"}],"mark":{"type":"line","color":"#000000","strokeWidth":2.5}},
  {"data":{"values":[{"t":12,"t2":15,"v":0,"v2":60000}]},"mark":{"type":"rect","fillOpacity":0,"stroke":"black","strokeWidth":3},"encoding":{"x2":{"field":"t2"},"y2":{"field":"v2"}}},
  {"data":{"values":[{"t":13.55,"v":68500,"label":"Piperitone"}]},"mark":{"type":"text","fontSize":52,"fontWeight":"bold"},"encoding":{"text":{"field":"label"}}},
  {"data":{"values":[{"t":13.46,"v":56300,"label":"After"},{"t":13.58,"v":15900,"label":"Before"}]},"mark":{"type":"text","fontSize":35,"fontStyle":"italic","fontWeight":"bold"},"encoding":{"text":{"field":"label"}}}
 ]},
{"data":{"name":"dM"},
 "encoding":{
  "x":{"field":"t","type":"quantitative","scale":{"domain":[0,30],"range":[2213,3759],"nice":false,"zero":false},"axis":{"orient":"bottom","offset":-187,"values":[0,5,10,15,20,25,30],"format":"d","tickSize":-28,"domainWidth":4.5,"labelFontSize":48,"labelPadding":52,"title":"Retention time [min]","titleFontSize":54,"titleX":2969,"titleY":125}},
  "y":{"field":"v","type":"quantitative","scale":{"domain":[0,12],"range":[2502,1626],"nice":false,"zero":false},"axis":{"orient":"left","offset":-2210,"values":[0,2,4,6,8,10,12],"labelExpr":"datum.value === 0 ? '0\u2005' : datum.value + ' × 10⁶'","tickSize":-28,"domainWidth":3.5,"labelFontSize":50,"labelPadding":42,"title":"Intensity [mV]","titleFontSize":54,"titleX":-234,"titleY":2064,"titleAngle":270}}},
 "layer":[
  {"transform":[{"filter":"datum.s==='A'"}],"mark":{"type":"line","color":"#808080","strokeWidth":3}},
  {"transform":[{"filter":"datum.s==='B'"}],"mark":{"type":"line","color":"#000000","strokeWidth":3}},
  {"data":{"name":"dD"},"mark":{"type":"line","color":"#000000","strokeWidth":2,"strokeDash":[10,7]},"encoding":{"detail":{"field":"g"}}},
  {"data":{"values":[{"t":21.87,"v":4.23}]},"mark":{"type":"point","shape":"M-0.26,1L-0.26,-0.42L-0.5,-0.42L0,-1L0.5,-0.42L0.26,-0.42L0.26,1Z","size":14884,"angle":-36,"filled":true,"fill":"white","stroke":"black","strokeWidth":2.5,"opacity":1}},
  {"data":{"values":[{"t":3.2,"v":3.42,"label":"After"},{"t":2.08,"v":0.55,"label":"Before"}]},"mark":{"type":"text","fontSize":54,"fontStyle":"italic","fontWeight":"bold"},"encoding":{"text":{"field":"label"}}},
  {"data":{"values":[{"t":12.56,"v":4.22,"label":"Piperitone"},{"t":25.58,"v":8.16,"label":"Thymol"},{"t":23.02,"v":11.97,"label":"I.S."},{"t":24.96,"v":14.93,"label":"I.S."}]},"mark":{"type":"text","fontSize":54,"fontWeight":"bold"},"encoding":{"text":{"field":"label"}}},
  {"data":{"values":[{"t":-0.2,"v":13.66,"label":"(d)"}]},"mark":{"type":"text","fontSize":130,"fontWeight":"bold"},"encoding":{"text":{"field":"label"}}}
 ]},
{"data":{"name":"d1"},
 "encoding":{
  "x":{"field":"t","type":"quantitative","scale":{"domain":[20,26],"range":[2646,3242],"nice":false,"zero":false},"axis":{"orient":"bottom","offset":-742,"values":[20,21,22,23,24,25,26],"format":"d","ticks":false,"labelFontSize":36,"labelPadding":20,"title":"Retention time [min]","titleFontSize":46,"titleX":2987,"titleY":101}},
  "y":{"field":"v","type":"quantitative","scale":{"domain":[0,5000000],"range":[2015,1620],"nice":false,"zero":false},"axis":{"orient":"left","offset":-2646,"values":[0,500000,1000000,1500000,2000000,2500000,3000000,3500000,4000000,4500000,5000000],"labelExpr":"datum.value % 1000000 === 0 ? format(datum.value, 'd') : ''","tickSize":-13,"labelFontSize":36,"labelPadding":27,"title":"Intensity [mV]","titleFontSize":46,"titleX":-189,"titleY":1805,"titleAngle":270}}},
 "layer":[
  {"transform":[{"filter":"datum.s==='A'"}],"mark":{"type":"line","color":"#808080","strokeWidth":2.5}},
  {"transform":[{"filter":"datum.s==='B'"}],"mark":{"type":"line","color":"#000000","strokeWidth":2.5}},
  {"data":{"values":[{"t":20,"t2":26,"v":0,"v2":5000000}]},"mark":{"type":"rect","fillOpacity":0,"stroke":"black","strokeWidth":3.5},"encoding":{"x2":{"field":"t2"},"y2":{"field":"v2"}}},
  {"data":{"name":"d1arr"},"mark":{"type":"line","color":"#000000","strokeWidth":3},"encoding":{"detail":{"field":"g"}}},
  {"data":{"values":[{"t":23.84,"v":4430000},{"t":23.84,"v":780000}]},"mark":{"type":"point","shape":"triangle-right","size":260,"filled":true,"color":"black","opacity":1}},
  {"data":{"values":[{"t":24.02,"v":4400000,"label":"After"},{"t":24.02,"v":700000,"label":"Before"}]},"mark":{"type":"text","fontSize":46,"fontStyle":"italic","fontWeight":"bold","align":"left"},"encoding":{"text":{"field":"label"}}}
 ]}
],
"resolve":{"scale":{"x":"independent","y":"independent"},"axis":{"x":"independent","y":"independent"}}
}
